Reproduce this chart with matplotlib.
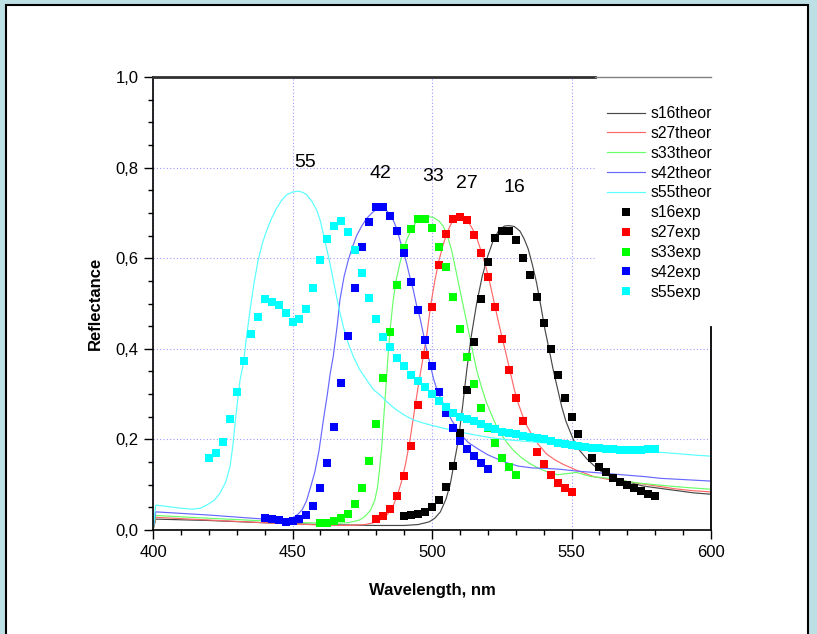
import matplotlib
matplotlib.use('Agg')
import matplotlib.pyplot as plt
from matplotlib.ticker import MultipleLocator, FuncFormatter
from matplotlib.patches import Rectangle

plt.rcParams['font.family'] = ['Liberation Sans', 'DejaVu Sans']

# ---------------- data ----------------
# experimental series
s16exp_x = [490, 492.5, 495, 497.5, 500, 502.5, 505, 507.5, 510, 512.5, 515, 517.5, 520, 522.5,
            525, 527.5, 530, 532.5, 535, 537.5, 540, 542.5, 545, 547.5, 550, 552.5, 555, 557.5,
            560, 562.5, 565, 567.5, 570, 572.5, 575, 577.5, 580]
s16exp_y = [0.031, 0.033, 0.035, 0.040, 0.050, 0.066, 0.094, 0.142, 0.215, 0.308, 0.414, 0.511,
            0.591, 0.644, 0.661, 0.660, 0.640, 0.601, 0.563, 0.515, 0.456, 0.400, 0.342, 0.291,
            0.250, 0.213, 0.184, 0.158, 0.140, 0.127, 0.114, 0.107, 0.099, 0.092, 0.085, 0.079, 0.075]

s27exp_x = [480, 482.5, 485, 487.5, 490, 492.5, 495, 497.5, 500, 502.5, 505, 507.5, 510, 512.5,
            515, 517.5, 520, 522.5, 525, 527.5, 530, 532.5, 535, 537.5, 540, 542.5, 545, 547.5, 550]
s27exp_y = [0.024, 0.031, 0.046, 0.074, 0.119, 0.186, 0.277, 0.386, 0.493, 0.585, 0.653, 0.686,
            0.690, 0.684, 0.651, 0.611, 0.559, 0.492, 0.421, 0.353, 0.291, 0.241, 0.205, 0.173,
            0.146, 0.121, 0.103, 0.092, 0.083]

s33exp_x = [460, 462.5, 465, 467.5, 470, 472.5, 475, 477.5, 480, 482.5, 485, 487.5, 490, 492.5,
            495, 497.5, 500, 502.5, 505, 507.5, 510, 512.5, 515, 517.5, 520, 522.5, 525, 527.5, 530]
s33exp_y = [0.015, 0.016, 0.020, 0.027, 0.035, 0.057, 0.093, 0.153, 0.234, 0.335, 0.437, 0.540,
            0.622, 0.664, 0.686, 0.686, 0.666, 0.625, 0.580, 0.515, 0.443, 0.381, 0.322, 0.269,
            0.225, 0.191, 0.160, 0.138, 0.121]

s42exp_x = [440, 442.5, 445, 447.5, 450, 452.5, 455, 457.5, 460, 462.5, 465, 467.5, 470, 472.5,
            475, 477.5, 480, 482.5, 485, 487.5, 490, 492.5, 495, 497.5, 500, 502.5, 505, 507.5,
            510, 512.5, 515, 517.5, 520]
s42exp_y = [0.026, 0.024, 0.021, 0.018, 0.020, 0.024, 0.033, 0.053, 0.092, 0.149, 0.227, 0.325,
            0.428, 0.535, 0.624, 0.681, 0.712, 0.713, 0.693, 0.661, 0.611, 0.548, 0.486, 0.420,
            0.362, 0.305, 0.258, 0.225, 0.197, 0.178, 0.163, 0.149, 0.134]

s55exp_x = [420, 422.5, 425, 427.5, 430, 432.5, 435, 437.5, 440, 442.5, 445, 447.5, 450, 452.5,
            455, 457.5, 460, 462.5, 465, 467.5, 470, 472.5, 475, 477.5, 480, 482.5, 485, 487.5,
            490, 492.5, 495, 497.5, 500, 502.5, 505, 507.5, 510, 512.5, 515, 517.5, 520, 522.5,
            525, 527.5, 530, 532.5, 535, 537.5, 540, 542.5, 545, 547.5, 550, 552.5, 555, 557.5,
            560, 562.5, 565, 567.5, 570, 572.5, 575, 577.5, 580]
s55exp_y = [0.160, 0.171, 0.194, 0.244, 0.305, 0.374, 0.433, 0.471, 0.509, 0.504, 0.496, 0.480,
            0.460, 0.465, 0.488, 0.535, 0.596, 0.642, 0.671, 0.682, 0.658, 0.618, 0.567, 0.513,
            0.465, 0.427, 0.403, 0.380, 0.362, 0.343, 0.329, 0.315, 0.301, 0.285, 0.271, 0.258,
            0.250, 0.245, 0.240, 0.233, 0.227, 0.222, 0.217, 0.214, 0.211, 0.208, 0.205, 0.202,
            0.200, 0.197, 0.193, 0.190, 0.188, 0.185, 0.183, 0.181, 0.180, 0.179, 0.178, 0.177,
            0.177, 0.177, 0.177, 0.178, 0.178]

# theoretical series
s16theor_x = [400, 401, 420, 440, 460, 480, 490, 495, 499, 501, 503, 505, 506.5, 508, 509.5, 511,
              512.5, 514, 516, 518, 520, 522, 524, 526, 527.5, 529.5, 531.5, 533, 534.5, 536,
              537.5, 539, 540.5, 542, 543.5, 545, 546.5, 548, 550.7, 553, 555.5, 557.9, 560.5,
              563.8, 566.5, 569.8, 575.7, 581.7, 587.7, 593.7, 600]
s16theor_y = [0.0, 0.024, 0.021, 0.016, 0.012, 0.010, 0.010, 0.012, 0.018, 0.026, 0.040, 0.068,
              0.100, 0.150, 0.200, 0.275, 0.355, 0.425, 0.500, 0.560, 0.605, 0.640, 0.662, 0.671,
              0.672, 0.670, 0.660, 0.643, 0.620, 0.585, 0.545, 0.495, 0.442, 0.398, 0.352, 0.312,
              0.272, 0.240, 0.199, 0.175, 0.157, 0.143, 0.130, 0.118, 0.112, 0.107, 0.097, 0.092,
              0.087, 0.082, 0.079]

s27theor_x = [400, 401, 420, 440, 460, 470, 476, 479, 482, 484, 486, 487.5, 489, 490.5, 492,
              493.5, 495, 496.5, 498, 499.5, 501, 502.5, 504, 505.5, 507, 508.5, 510, 511.5, 513,
              514.5, 516, 517.5, 519, 520.5, 522, 523.5, 525, 526.5, 528, 529.5, 531, 532.5, 534,
              536, 538, 541, 544, 547, 551.8, 557.9, 563.8, 569.8, 575, 581.7, 587, 593, 600]
s27theor_y = [0.0, 0.028, 0.022, 0.016, 0.011, 0.010, 0.012, 0.016, 0.024, 0.034, 0.052, 0.075,
              0.105, 0.145, 0.195, 0.255, 0.315, 0.370, 0.425, 0.495, 0.550, 0.595, 0.630, 0.658,
              0.678, 0.690, 0.694, 0.690, 0.680, 0.665, 0.645, 0.618, 0.588, 0.552, 0.510, 0.468,
              0.428, 0.390, 0.350, 0.310, 0.278, 0.252, 0.230, 0.208, 0.190, 0.168, 0.155, 0.145,
              0.132, 0.118, 0.111, 0.107, 0.102, 0.096, 0.091, 0.087, 0.084]

s33theor_x = [400, 401, 420, 440, 455, 465, 470, 474, 476, 478, 479.5, 480.5, 481.3, 482, 482.6,
              483.2, 483.8, 484.4, 485.2, 486.1, 487.2, 488.5, 489.7, 490.9, 492.5, 494.5, 496.5,
              498.5, 500.5, 502.5, 504, 505.5, 507, 508.5, 510, 511.5, 513, 514.5, 516, 518,
              519.6, 521.5, 523.2, 526, 529, 532, 535, 538, 541, 545, 551.8, 557, 563.8, 570,
              575, 581.7, 587, 593, 600]
s33theor_y = [0.0, 0.032, 0.026, 0.020, 0.016, 0.015, 0.016, 0.022, 0.030, 0.044, 0.066, 0.095,
              0.140, 0.185, 0.240, 0.290, 0.345, 0.397, 0.455, 0.508, 0.553, 0.589, 0.617, 0.640,
              0.662, 0.681, 0.690, 0.692, 0.690, 0.682, 0.671, 0.650, 0.618, 0.575, 0.530, 0.486,
              0.442, 0.397, 0.353, 0.310, 0.280, 0.252, 0.228, 0.200, 0.177, 0.160, 0.147, 0.137,
              0.129, 0.122, 0.127, 0.118, 0.114, 0.107, 0.103, 0.099, 0.096, 0.093, 0.090]

s42theor_x = [400, 401, 420, 440, 447, 450, 452, 453.5, 455, 456.5, 458, 459.5, 461, 462.5, 463.5,
              464.6, 466, 467, 468.5, 470, 471.5, 473, 475, 476.6, 478.5, 480.5, 482.5, 484.5,
              486.1, 487.5, 488.5, 489.7, 490.9, 492, 493.3, 494.5, 495.7, 497, 498.1, 499.3,
              500.5, 502, 504, 507, 510, 513, 517, 520, 523, 527, 531, 536, 541, 546, 552, 558,
              564, 570, 576, 582, 588, 594, 600]
s42theor_y = [0.0, 0.040, 0.033, 0.024, 0.022, 0.026, 0.035, 0.045, 0.064, 0.095, 0.128, 0.175,
              0.240, 0.300, 0.345, 0.383, 0.450, 0.508, 0.560, 0.596, 0.625, 0.650, 0.673, 0.688,
              0.700, 0.710, 0.712, 0.700, 0.684, 0.663, 0.640, 0.615, 0.589, 0.560, 0.530, 0.495,
              0.468, 0.430, 0.397, 0.367, 0.335, 0.305, 0.280, 0.243, 0.213, 0.193, 0.177, 0.166,
              0.158, 0.148, 0.141, 0.137, 0.136, 0.134, 0.130, 0.127, 0.124, 0.121, 0.118, 0.114,
              0.112, 0.110, 0.108]

s55theor_x = [400, 401, 405, 410, 414, 417, 419.5, 422, 424, 426, 427.6, 428.6, 429.4, 430.3, 431.2,
              432.4, 433.5, 434.8, 436.2, 437.7, 439.2, 440.8, 442.5, 444.3, 446, 447.9, 450,
              452.1, 453.8, 455.1, 457, 458.7, 460, 461, 462.2, 463.4, 464.6, 465.8, 467, 468.2,
              470, 471.8, 474, 476.6, 479, 481.4, 484, 487.3, 490, 493.3, 497, 500.5, 506, 511,
              517, 523, 529, 535, 541, 547, 553, 559, 565, 571, 577, 583, 589, 595, 600]
s55theor_y = [0.0, 0.055, 0.052, 0.048, 0.046, 0.048, 0.056, 0.066, 0.081, 0.105, 0.140, 0.185,
              0.235, 0.285, 0.331, 0.368, 0.425, 0.486, 0.545, 0.596, 0.633, 0.662, 0.688, 0.710,
              0.727, 0.740, 0.746, 0.748, 0.745, 0.740, 0.725, 0.706, 0.682, 0.655, 0.622, 0.589,
              0.552, 0.515, 0.480, 0.449, 0.412, 0.383, 0.355, 0.331, 0.310, 0.298, 0.282, 0.265,
              0.254, 0.243, 0.236, 0.230, 0.222, 0.215, 0.208, 0.202, 0.198, 0.195, 0.192, 0.188,
              0.184, 0.180, 0.177, 0.175, 0.173, 0.171, 0.168, 0.165, 0.163]

theor_labels = ['s16theor', 's27theor', 's33theor', 's42theor', 's55theor']
exp_labels = ['s16exp', 's27exp', 's33exp', 's42exp', 's55exp']

peak_labels = ['55', '42', '33', '27', '16']
peak_x = [454.5, 481.4, 500.4, 512.5, 529.4]
peak_y = [0.812, 0.788, 0.781, 0.766, 0.757]

x_ticks = [400, 450, 500, 550, 600]
y_ticks = [0.0, 0.2, 0.4, 0.6, 0.8, 1.0]

# ---------------- styling ----------------
theor_colors = ['#484848', '#ff6868', '#68ff68', '#6868ff', '#58ffff']
exp_colors = ['#000000', '#ff0000', '#00ff00', '#0000ff', '#00ffff']

W, H = 817, 634
fig = plt.figure(figsize=(W / 100, H / 100), dpi=100, facecolor='#bde0e4')
panel = Rectangle((6 / W, -0.05), 802 / W, (H - 5) / H + 0.05, transform=fig.transFigure,
                  facecolor='white', edgecolor='black', lw=1.5, zorder=-5)
fig.patches.append(panel)

ax = fig.add_axes([153 / W, 104 / H, 558 / W, 453 / H])
ax.set_facecolor('white')
ax.set_xlim(400, 600)
ax.set_ylim(0, 1.0)

theor = [(s16theor_x, s16theor_y), (s27theor_x, s27theor_y), (s33theor_x, s33theor_y),
         (s42theor_x, s42theor_y), (s55theor_x, s55theor_y)]
exps = [(s16exp_x, s16exp_y), (s27exp_x, s27exp_y), (s33exp_x, s33exp_y),
        (s42exp_x, s42exp_y), (s55exp_x, s55exp_y)]

handles = []
for (xs, ys), c, lab in zip(theor, theor_colors, theor_labels):
    h, = ax.plot(xs, ys, color=c, lw=0.85, label=lab, zorder=2)
    handles.append(h)
for (xs, ys), c, lab in zip(exps, exp_colors, exp_labels):
    h, = ax.plot(xs, ys, ls='none', marker='s', ms=5.2, mew=0, color=c, label=lab, zorder=3)
    handles.append(h)

for t, x, y in zip(peak_labels, peak_x, peak_y):
    ax.text(x, y, t, ha='center', va='center', fontsize=14, color='black')

# axes decoration
ax.set_axisbelow(True)
ax.xaxis.set_minor_locator(MultipleLocator(10))
ax.yaxis.set_minor_locator(MultipleLocator(0.05))
ax.set_xticks(x_ticks)
ax.set_yticks(y_ticks)
ax.yaxis.set_major_formatter(FuncFormatter(lambda v, p: f'{v:.1f}'.replace('.', ',')))
ax.grid(which='major', color='#9a9aff', linestyle=(0, (1, 2)), lw=0.8)
ax.tick_params(which='major', direction='out', length=6.5, width=1.0, labelsize=12, pad=4)
ax.tick_params(which='minor', direction='out', length=3.5, width=1.0)

for s in ['top', 'right']:
    ax.spines[s].set_visible(False)
for s in ['left', 'bottom']:
    ax.spines[s].set_linewidth(1.2)

# white legend area
ax.add_patch(Rectangle((0.792, 0.45), 0.23, 0.548, transform=ax.transAxes,
                       facecolor='white', edgecolor='none', zorder=1.5, clip_on=False))
ax.plot([0, 0.792], [1, 1], transform=ax.transAxes, color='#303030', lw=2, clip_on=False, zorder=5)
ax.plot([0.792, 1.0], [1, 1], transform=ax.transAxes, color='#808080', lw=1, clip_on=False, zorder=5)
ax.plot([1, 1], [0, 0.448], transform=ax.transAxes, color='black', lw=1.3, clip_on=False, zorder=5)

label_font = dict(fontsize=12, fontweight='bold', family=['Liberation Sans Narrow', 'Liberation Sans'])
ax.set_xlabel('Wavelength, nm', labelpad=17, **label_font)
ax.set_ylabel('Reflectance', labelpad=9, **label_font)

ax.legend(handles=handles, frameon=False, loc='upper left',
          bbox_to_anchor=(607 / W, (H - 106) / H), bbox_transform=fig.transFigure,
          fontsize=11.3, handlelength=2.4, handletextpad=0.35, labelspacing=0.31,
          borderpad=0, borderaxespad=0)

fig.savefig('out.png', dpi=100, facecolor=fig.get_facecolor())
